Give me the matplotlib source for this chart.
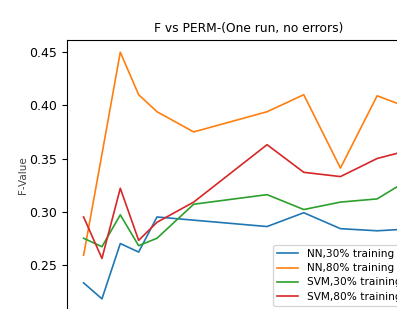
import matplotlib
matplotlib.use('Agg')
import matplotlib.pyplot as plt

# perm settings (x axis is cut off in the reference)
perm = [1, 2, 3, 4, 5, 7, 11, 13, 15, 17, 19]

nn_30 = [0.233, 0.218, 0.270, 0.262, 0.295, 0.292, 0.286, 0.299, 0.284, 0.282, 0.284]
nn_80 = [0.259, 0.354, 0.450, 0.410, 0.394, 0.375, 0.394, 0.410, 0.341, 0.409, 0.396]
svm_30 = [0.275, 0.267, 0.297, 0.268, 0.275, 0.307, 0.316, 0.302, 0.309, 0.312, 0.333]
svm_80 = [0.295, 0.256, 0.322, 0.273, 0.290, 0.309, 0.363, 0.337, 0.333, 0.350, 0.359]

labels = ['NN,30% training set', 'NN,80% training set',
          'SVM,30% training set', 'SVM,80% training set']

fig = plt.figure(figsize=(3.97, 3.09), dpi=100)
ax = fig.add_axes([0.169, -0.007, 0.915, 0.878])

for series, lab in zip([nn_30, nn_80, svm_30, svm_80], labels):
    ax.plot(perm, series, label=lab, lw=1.2)

ax.set_title('F vs PERM-(One run, no errors)', fontsize=8.8)
ax.set_ylabel('F-Value', fontsize=7.5, color='#444444')
ax.yaxis.set_label_coords(-0.108, 0.5)
ax.tick_params(labelsize=9)
# x axis falls below the visible area
ax.tick_params(axis='x', labelbottom=False)
ax.legend(loc='lower right', fontsize=7.6, labelspacing=0.4)

fig.savefig('out.png', dpi=100)
